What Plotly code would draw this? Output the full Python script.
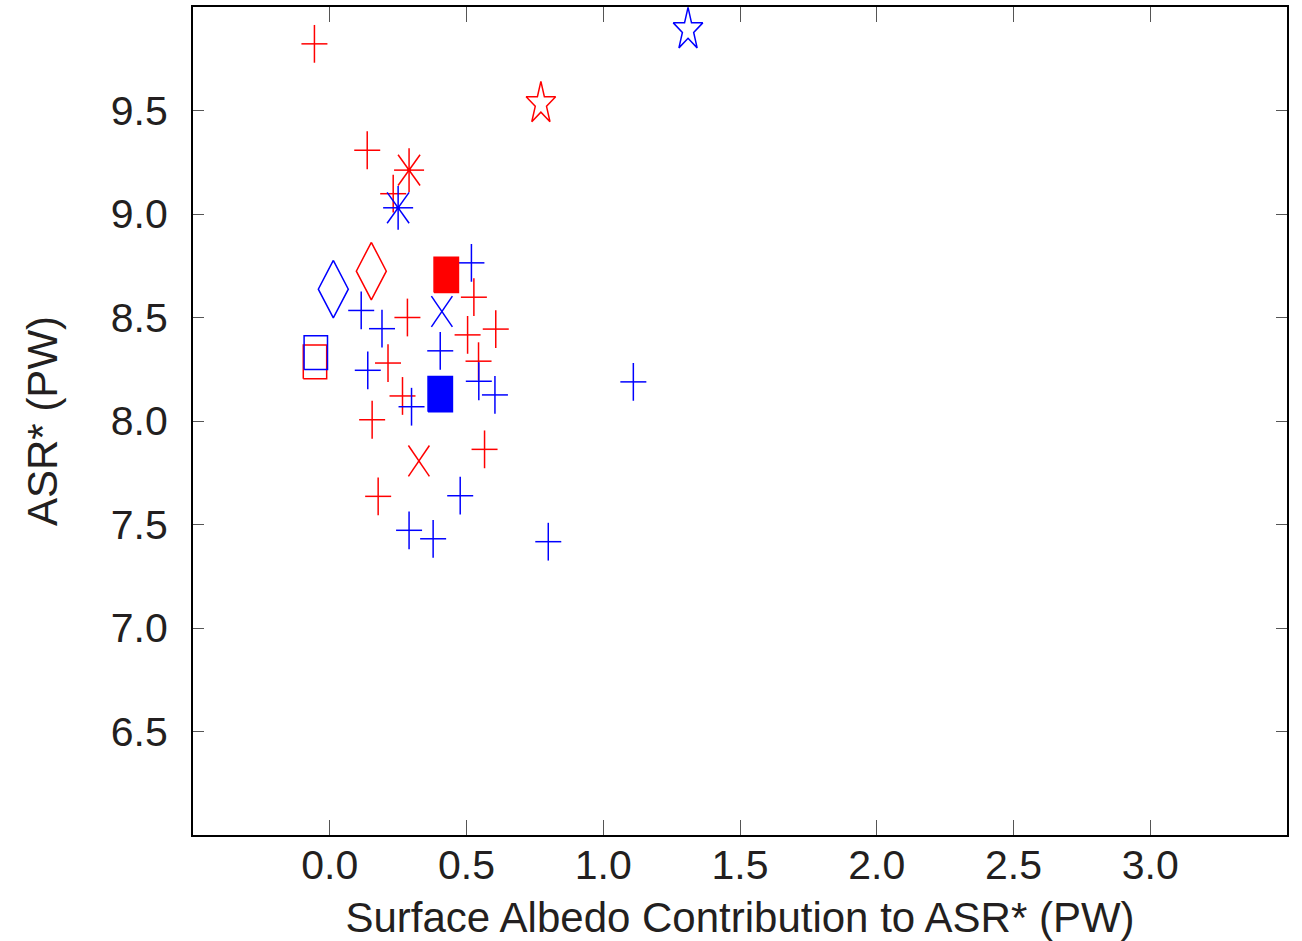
import plotly.graph_objects as go

# ---------------- data ----------------
red_cross_x = [-0.056, 0.137, 0.232, 0.284, 0.213, 0.266, 0.527, 0.504, 0.607, 0.544, 0.155, 0.566, 0.177]
red_cross_y = [9.822, 9.308, 9.098, 8.500, 8.280, 8.121, 8.598, 8.416, 8.444, 8.289, 8.006, 7.863, 7.636]
blue_cross_x = [0.115, 0.191, 0.139, 0.299, 0.518, 0.404, 0.545, 0.604, 0.477, 0.290, 0.378, 0.799, 1.110]
blue_cross_y = [8.534, 8.446, 8.245, 8.069, 8.764, 8.339, 8.192, 8.126, 7.639, 7.472, 7.431, 7.417, 8.189]

red_asterisk_x = [0.290]
red_asterisk_y = [9.212]
blue_asterisk_x = [0.250]
blue_asterisk_y = [9.030]

red_xmark_x = [0.326]
red_xmark_y = [7.807]
blue_xmark_x = [0.410]
blue_xmark_y = [8.529]

red_diamond_x = [0.152]
red_diamond_y = [8.724]
blue_diamond_x = [0.013]
blue_diamond_y = [8.637]

red_open_rect_x = [-0.054]
red_open_rect_y = [8.286]
blue_open_rect_x = [-0.051]
blue_open_rect_y = [8.330]

red_filled_rect_x = [0.426]
red_filled_rect_y = [8.706]
blue_filled_rect_x = [0.404]
blue_filled_rect_y = [8.130]

red_star_x = [0.772]
red_star_y = [9.533]
blue_star_x = [1.310]
blue_star_y = [9.890]

x_ticks = [0.0, 0.5, 1.0, 1.5, 2.0, 2.5, 3.0]
y_ticks = [6.5, 7.0, 7.5, 8.0, 8.5, 9.0, 9.5]
x_range = [-0.5, 3.5]
y_range = [6.0, 10.0]

# ---------------- layout geometry / styles ----------------
W, H = 1302, 941
ML, MR, MT, MB = 193, 15, 5, 103
PX_X = (W - ML - MR) / (x_range[1] - x_range[0])   # px per data unit
PX_Y = (H - MT - MB) / (y_range[1] - y_range[0])

RED = "#ff0000"
BLUE = "#0000ff"
LW = 1.5


def dx(px):
    return px / PX_X


def dy(px):
    return px / PX_Y


def rect_path(xs, ys, hx, hy):
    px, py = [], []
    for x, y in zip(xs, ys):
        px += [x - dx(hx), x + dx(hx), x + dx(hx), x - dx(hx), x - dx(hx), None]
        py += [y - dy(hy), y - dy(hy), y + dy(hy), y + dy(hy), y - dy(hy), None]
    return px, py


def diamond_path(xs, ys, hx, hy):
    px, py = [], []
    for x, y in zip(xs, ys):
        px += [x, x + dx(hx), x, x - dx(hx), x, None]
        py += [y + dy(hy), y, y - dy(hy), y, y + dy(hy), None]
    return px, py


def xmark_path(xs, ys, hx, hy):
    px, py = [], []
    for x, y in zip(xs, ys):
        px += [x - dx(hx), x + dx(hx), None, x - dx(hx), x + dx(hx), None]
        py += [y - dy(hy), y + dy(hy), None, y + dy(hy), y - dy(hy), None]
    return px, py


def star_path(xs, ys, rx, ry):
    import math
    px, py = [], []
    for x, y in zip(xs, ys):
        for k in range(11):
            a = math.radians(90 + 36 * k)
            r = 1.0 if k % 2 == 0 else 0.382
            px.append(x + dx(rx) * r * math.cos(a))
            py.append(y + dy(ry) * r * math.sin(a))
        px.append(None)
        py.append(None)
    return px, py


fig = go.Figure()


def add_lines(p, color, fill=False):
    fig.add_trace(go.Scatter(
        x=p[0], y=p[1], mode="lines",
        line=dict(color=color, width=LW),
        fill="toself" if fill else None,
        fillcolor=color if fill else None,
        hoverinfo="skip", showlegend=False))


def add_crosses(xs, ys, color, hx, hy, dot=0):
    fig.add_trace(go.Scatter(
        x=xs, y=ys, mode="markers",
        marker=dict(size=max(dot, 1), color=color, opacity=1 if dot else 0),
        error_x=dict(type="constant", value=dx(hx), width=0, thickness=LW, color=color),
        error_y=dict(type="constant", value=dy(hy), width=0, thickness=LW, color=color),
        showlegend=False))


# open rectangles
add_lines(rect_path(red_open_rect_x, red_open_rect_y, 11.7, 17.0), RED)
add_lines(rect_path(blue_open_rect_x, blue_open_rect_y, 11.7, 17.0), BLUE)

# diamonds
add_lines(diamond_path(red_diamond_x, red_diamond_y, 15.0, 29.0), RED)
add_lines(diamond_path(blue_diamond_x, blue_diamond_y, 15.0, 29.0), BLUE)

# crosses
add_crosses(red_cross_x, red_cross_y, RED, 13, 19)
add_crosses(blue_cross_x, blue_cross_y, BLUE, 13, 19)

# X marks
add_lines(xmark_path(red_xmark_x, red_xmark_y, 10.5, 15.5), RED)
add_lines(xmark_path(blue_xmark_x, blue_xmark_y, 10.5, 15.5), BLUE)

# asterisks: + part via error bars, x part via lines
add_crosses(red_asterisk_x, red_asterisk_y, RED, 15, 22, dot=4)
add_crosses(blue_asterisk_x, blue_asterisk_y, BLUE, 15, 22, dot=4)
add_lines(xmark_path(red_asterisk_x, red_asterisk_y, 11, 15.5), RED)
add_lines(xmark_path(blue_asterisk_x, blue_asterisk_y, 11, 15.5), BLUE)

# filled rectangles
add_lines(rect_path(red_filled_rect_x, red_filled_rect_y, 12.2, 17.8), RED, fill=True)
add_lines(rect_path(blue_filled_rect_x, blue_filled_rect_y, 12.2, 17.8), BLUE, fill=True)

# stars
add_lines(star_path(red_star_x, red_star_y, 15.5, 22.5), RED)
add_lines(star_path(blue_star_x, blue_star_y, 15.5, 22.5), BLUE)

FONT = "Liberation Sans, Arial, sans-serif"
TXT = "#231f20"

axis_common = dict(
    showline=True, linecolor="black", linewidth=2, mirror="ticks",
    ticks="inside", tickcolor="#555555", tickwidth=1,
    showgrid=False, zeroline=False, tickformat=".1f",
    tickfont=dict(family=FONT, size=41, color=TXT),
)

fig.update_layout(
    width=W, height=H,
    margin=dict(l=ML, r=MR, t=MT, b=MB),
    plot_bgcolor="white", paper_bgcolor="white",
    showlegend=False,
    font=dict(family=FONT, color=TXT),
    xaxis=dict(range=x_range, tickvals=x_ticks, ticklen=15, ticklabelstandoff=-7,
               title=dict(text="Surface Albedo Contribution to ASR* (PW)",
                          font=dict(family=FONT, size=42, color=TXT), standoff=18),
               **axis_common),
    yaxis=dict(range=y_range, tickvals=y_ticks, ticklen=11, ticklabelstandoff=15,
               title=dict(text="ASR* (PW)",
                          font=dict(family=FONT, size=42, color=TXT), standoff=40),
               **axis_common),
)

fig.write_html("out.html")
